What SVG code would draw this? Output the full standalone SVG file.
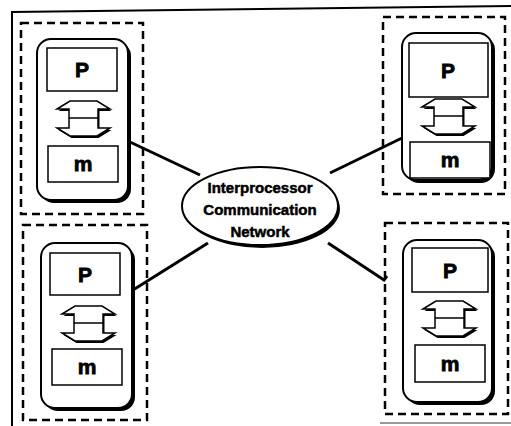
<svg xmlns="http://www.w3.org/2000/svg" width="511" height="426" viewBox="0 0 511 426">
<style>
.frame{fill:none;stroke:#000;stroke-width:2}
.dash{fill:none;stroke:#000;stroke-width:2.5;stroke-dasharray:8 5}
.card{fill:#fff;stroke:#000;stroke-width:2}
.shadow{fill:#000}
.box{fill:#fff;stroke:#000;stroke-width:1.5}
.lbl{font-family:"Liberation Sans",Arial,sans-serif;font-weight:bold;font-size:21px;text-anchor:middle;stroke:#000;stroke-width:0.8}
.net{font-family:"Liberation Sans",Arial,sans-serif;font-weight:bold;font-size:15px;text-anchor:middle;stroke:#000;stroke-width:0.5}
.conn{stroke:#000;stroke-width:3;fill:none}
</style>
<defs>
<g id="arr">
<polygon points="0,9 13,1 40,1 53,9 41,9 41,28 53,28 40,36 13,36 0,28 12,28 12,9" transform="translate(1.5,2)" fill="#000"/>
<polygon points="0,9 13,1 40,1 53,9 41,9 41,28 53,28 40,36 13,36 0,28 12,28 12,9" fill="#fff" stroke="#000" stroke-width="1.5"/>
<line x1="12" y1="18" x2="41" y2="18" stroke="#000" stroke-width="1.5"/>
</g>
</defs>
<path class="frame" d="M12,426 L12,12 L511,6"/>
<line x1="380" y1="423" x2="511" y2="423" stroke="#999" stroke-width="2"/>
<g id="connectors">
<line class="conn" x1="130" y1="142" x2="200" y2="175"/>
<line class="conn" x1="402" y1="138" x2="330" y2="173"/>
<line class="conn" x1="133" y1="290" x2="208" y2="243"/>
<polyline class="conn" points="328,243 384,280 387,276"/>
</g>
<g id="network">
<ellipse cx="262" cy="209" rx="78" ry="39" class="shadow"/>
<ellipse cx="260" cy="206" rx="78" ry="39" fill="#fff" stroke="#000" stroke-width="2"/>
<text class="net" x="260" y="193">Interprocessor</text>
<text class="net" x="260" y="215">Communication</text>
<text class="net" x="260" y="237">Network</text>
</g>
<g id="node-tl">
<rect class="dash" x="21" y="23" width="122" height="191"/>
<rect class="shadow" x="40" y="42" width="91" height="161" rx="14"/>
<rect class="card" x="37" y="39" width="91" height="161" rx="14"/>
<rect class="box" x="47" y="48" width="70" height="43"/>
<text class="lbl" x="82" y="77">P</text>
<use href="#arr" x="57" y="100"/>
<rect class="box" x="48" y="146" width="70" height="36"/>
<text class="lbl" x="83" y="171">m</text>
</g>
<g id="node-bl">
<rect class="dash" x="23" y="225" width="124" height="195"/>
<rect class="shadow" x="44" y="246" width="91" height="165" rx="14"/>
<rect class="card" x="41" y="243" width="91" height="165" rx="14"/>
<rect class="box" x="50" y="253" width="70" height="42"/>
<text class="lbl" x="85" y="282">P</text>
<use href="#arr" x="62" y="305"/>
<rect class="box" x="52" y="349" width="70" height="36"/>
<text class="lbl" x="87" y="374">m</text>
</g>
<g id="node-tr">
<rect class="dash" x="383" y="17" width="122" height="177"/>
<rect class="shadow" x="405" y="36" width="90" height="147" rx="14"/>
<rect class="card" x="402" y="33" width="90" height="147" rx="14"/>
<rect class="box" x="409" y="43" width="79" height="54"/>
<text class="lbl" x="448" y="78">P</text>
<use href="#arr" x="422" y="98"/>
<rect class="box" x="410" y="142" width="80" height="36"/>
<text class="lbl" x="450" y="167">m</text>
</g>
<g id="node-br">
<rect class="dash" x="385" y="223" width="123" height="191"/>
<rect class="shadow" x="406" y="243" width="89" height="162" rx="14"/>
<rect class="card" x="403" y="240" width="89" height="162" rx="14"/>
<rect class="box" x="412" y="248" width="76" height="44"/>
<text class="lbl" x="450" y="278">P</text>
<use href="#arr" x="423" y="300"/>
<rect class="box" x="415" y="345" width="70" height="37"/>
<text class="lbl" x="450" y="371">m</text>
</g>
</svg>
